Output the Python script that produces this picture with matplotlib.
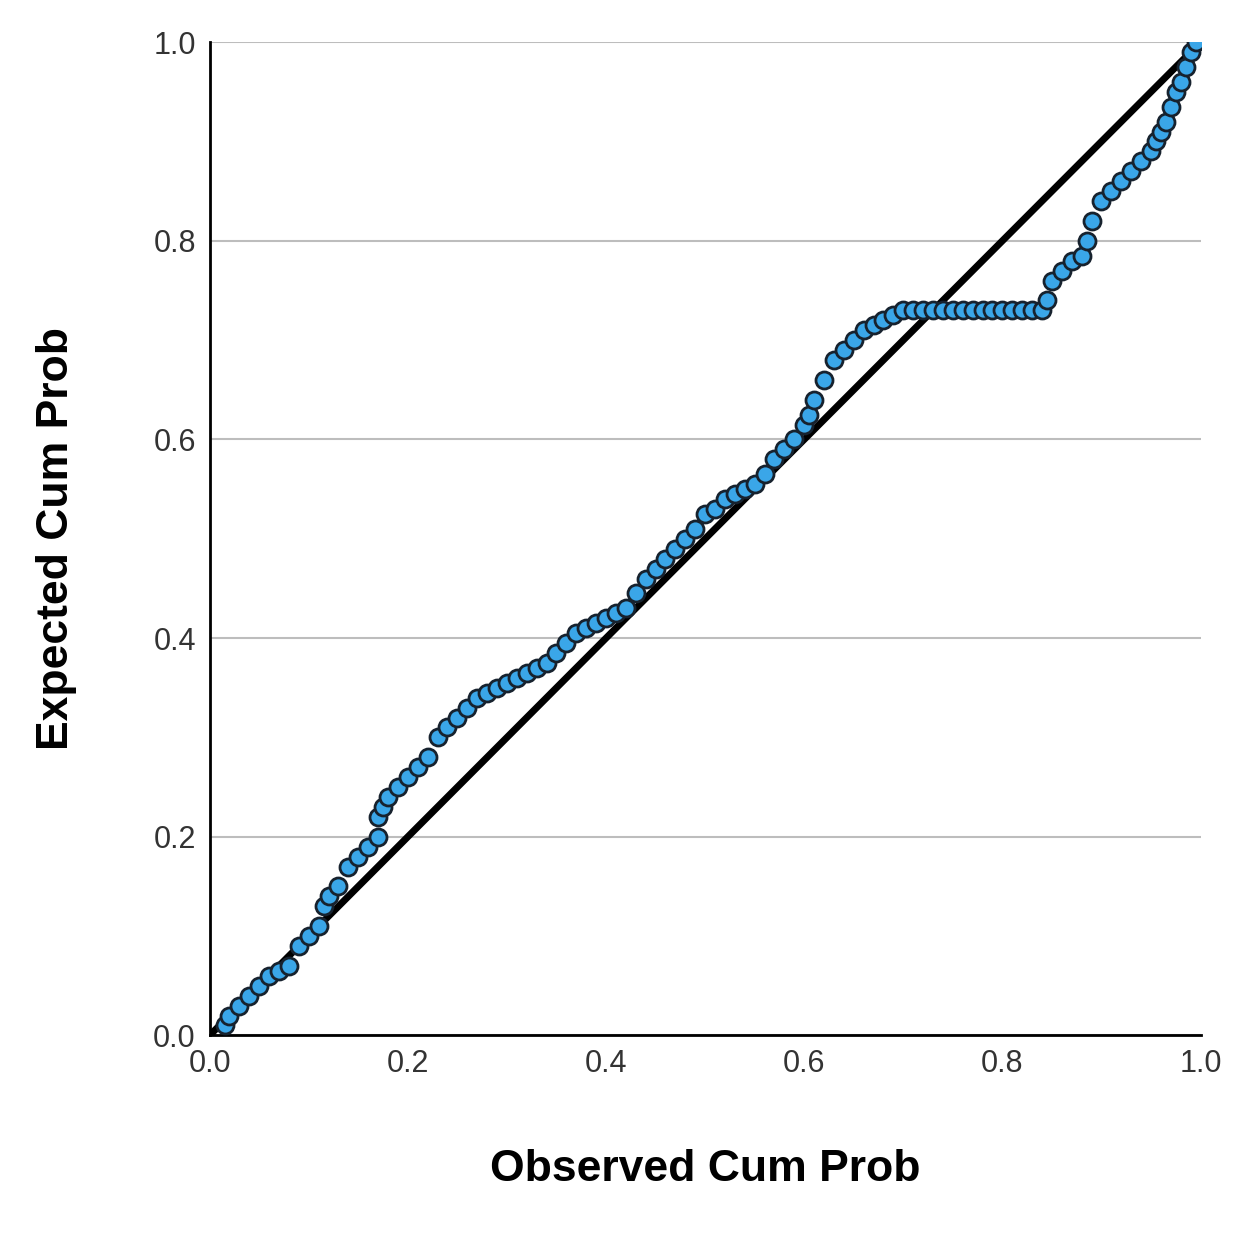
import numpy as np
import matplotlib.pyplot as plt

plt.rcParams['font.family'] = ['Liberation Sans', 'DejaVu Sans']

# observed vs expected cumulative probability
observed = [0.015, 0.02, 0.03, 0.04, 0.05, 0.06, 0.07, 0.08, 0.09, 0.10, 0.11, 0.115, 0.12, 0.13,
            0.14, 0.15, 0.16, 0.17, 0.17, 0.175, 0.18, 0.19, 0.20, 0.21, 0.22, 0.23, 0.24, 0.25,
            0.26, 0.27, 0.28, 0.29, 0.30, 0.31, 0.32, 0.33, 0.34, 0.35, 0.36, 0.37, 0.38, 0.39,
            0.40, 0.41, 0.42, 0.43, 0.44, 0.45, 0.46, 0.47, 0.48, 0.49, 0.50, 0.51, 0.52, 0.53,
            0.54, 0.55, 0.56, 0.57, 0.58, 0.59, 0.60, 0.605, 0.61, 0.62, 0.63, 0.64, 0.65, 0.66,
            0.67, 0.68, 0.69, 0.70, 0.71, 0.72, 0.73, 0.74, 0.75, 0.76, 0.77, 0.78, 0.79, 0.80,
            0.81, 0.82, 0.83, 0.84, 0.845, 0.85, 0.86, 0.87, 0.88, 0.885, 0.89, 0.90, 0.91, 0.92,
            0.93, 0.94, 0.95, 0.955, 0.96, 0.965, 0.97, 0.975, 0.98, 0.985, 0.99, 0.995]
expected = [0.01, 0.02, 0.03, 0.04, 0.05, 0.06, 0.065, 0.07, 0.09, 0.10, 0.11, 0.13, 0.14, 0.15,
            0.17, 0.18, 0.19, 0.20, 0.22, 0.23, 0.24, 0.25, 0.26, 0.27, 0.28, 0.30, 0.31, 0.32,
            0.33, 0.34, 0.345, 0.35, 0.355, 0.36, 0.365, 0.37, 0.375, 0.385, 0.395, 0.405, 0.41, 0.415,
            0.42, 0.425, 0.43, 0.445, 0.46, 0.47, 0.48, 0.49, 0.50, 0.51, 0.525, 0.53, 0.54, 0.545,
            0.55, 0.555, 0.565, 0.58, 0.59, 0.60, 0.615, 0.625, 0.64, 0.66, 0.68, 0.69, 0.70, 0.71,
            0.715, 0.72, 0.725, 0.73, 0.73, 0.73, 0.73, 0.73, 0.73, 0.73, 0.73, 0.73, 0.73, 0.73,
            0.73, 0.73, 0.73, 0.73, 0.74, 0.76, 0.77, 0.78, 0.785, 0.80, 0.82, 0.84, 0.85, 0.86,
            0.87, 0.88, 0.89, 0.90, 0.91, 0.92, 0.935, 0.95, 0.96, 0.975, 0.99, 1.0]

fig = plt.figure(figsize=(12.48, 12.40), dpi=100)
ax = fig.add_axes([0.168, 0.165, 0.794, 0.801])

ax.yaxis.grid(True, color='#bdbdbd', linewidth=1.5)
ax.set_axisbelow(True)
ax.plot([0, 1], [0, 1], color='black', linewidth=5, zorder=2)
ax.scatter(observed, expected, s=150, facecolor='#3aa6e8', edgecolor='#17222e',
           linewidth=2, zorder=3)

ax.set_xlim(0, 1)
ax.set_ylim(0, 1)
ticks = [0.0, 0.2, 0.4, 0.6, 0.8, 1.0]
ax.set_xticks(ticks)
ax.set_yticks(ticks)
ax.set_xticklabels(['%.1f' % t for t in ticks])
ax.set_yticklabels(['%.1f' % t for t in ticks])
ax.tick_params(length=0, labelsize=22, labelcolor='#333333', pad=10)
for s in ['top', 'right']:
    ax.spines[s].set_visible(False)
for s in ['left', 'bottom']:
    ax.spines[s].set_linewidth(2)

ax.set_xlabel('Observed Cum Prob', fontsize=32, fontweight='bold', labelpad=50)
ax.set_ylabel('Expected Cum Prob', fontsize=32, fontweight='bold', labelpad=55)

fig.savefig('out.png')
